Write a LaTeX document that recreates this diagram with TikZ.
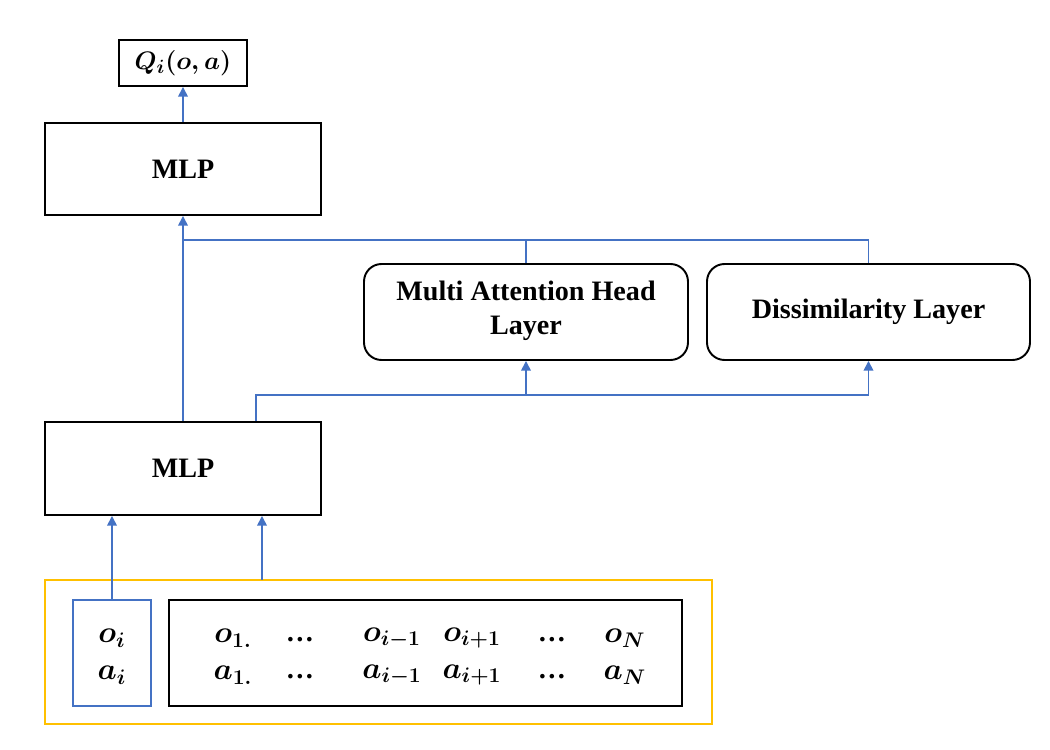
\documentclass[tikz,border=0pt]{standalone}
\usepackage{amsmath}
\usepackage{fontspec}
\setmainfont{Liberation Serif}
\usetikzlibrary{arrows.meta}
\begin{document}
\begin{tikzpicture}
    % Define colors
    \definecolor{linkColor}{RGB}{68,114,196}
    \definecolor{groupColor}{RGB}{255,192,0}
    % Styles
    \tikzset{
        block/.style={draw=black, line width=1.1pt, inner sep=0pt, align=center,
            font=\fontsize{16}{19.5}\selectfont\bfseries},
        roundblock/.style={block, rounded corners=10pt},
        link/.style={draw=linkColor, line width=0.9pt},
        arr/.style={link, -{Triangle[width=5.5pt,length=5.5pt]}},
        var/.style={font=\fontsize{17.5}{21}\selectfont\boldmath},
        gap/.style={font=\fontsize{16}{19}\selectfont\bfseries}
    }
    \useasboundingbox (0,0) rectangle (21,15);
    % Boxes
    \node[block, minimum width=2.56cm, minimum height=0.92cm, font=\fontsize{15.5}{18}\selectfont\boldmath] (q) at (3.66,13.74) {$Q_i(o,a)$};
    \node[block, minimum width=5.52cm, minimum height=1.84cm] (mlpA) at (3.66,11.62) {MLP};
    \node[roundblock, minimum width=6.48cm, minimum height=1.92cm, text depth=0.16cm] (mah) at (10.52,8.76) {Multi Attention Head\\Layer};
    \node[roundblock, minimum width=6.46cm, minimum height=1.92cm] (dis) at (17.37,8.76) {Dissimilarity Layer};
    \node[block, minimum width=5.52cm, minimum height=1.86cm] (mlpB) at (3.66,5.63) {MLP};
    % Inputs
    \draw[groupColor, line width=1.1pt] (0.9,0.52) rectangle (14.24,3.4);
    \node[draw=linkColor, line width=1.1pt, minimum width=1.56cm, minimum height=2.12cm] (own) at (2.24,1.94) {};
    \node[draw=black, line width=1.1pt, minimum width=10.26cm, minimum height=2.12cm] (others) at (8.51,1.94) {};
    \node[var] (oi) at (2.24,2.24) {$o_i$};
    \node[var] (ai) at (2.24,1.50) {$a_i$};
    \foreach \x/\o/\a in {4.66/{$o_{1.}$}/{$a_{1.}$}, 7.84/{$o_{i-1}$}/{$a_{i-1}$},
        9.44/{$o_{i+1}$}/{$a_{i+1}$}, 12.5/{$o_N$}/{$a_N$}} {
        \node[var] at (\x,2.24) {\o};
        \node[var] at (\x,1.50) {\a};
    }
    \foreach \x in {6.0,11.04} {
        \node[gap] at (\x,2.20) {…};
        \node[gap] at (\x,1.46) {…};
    }
    % Junctions
    \coordinate (jTop) at (3.66,10.2);
    \coordinate (jLow) at (5.12,7.1);
    \coordinate (tapIn) at (5.24,3.4);
    % Connectors
    \draw[arr] (mlpA.north) -- (q.south);
    \draw[arr] (mlpB.north) -- (mlpA.south);
    \draw[link] (dis.north) |- (jTop);
    \draw[link] (mah.north) -- (mah.north |- jTop);
    \draw[arr] (mlpB.north -| jLow) -- (jLow) -| (dis.south);
    \draw[arr] (jLow -| mah.south) -- (mah.south);
    \draw[arr] (own.north) -- (mlpB.south -| own.north);
    \draw[arr] (tapIn) -- (tapIn |- mlpB.south);
\end{tikzpicture}
\end{document}
